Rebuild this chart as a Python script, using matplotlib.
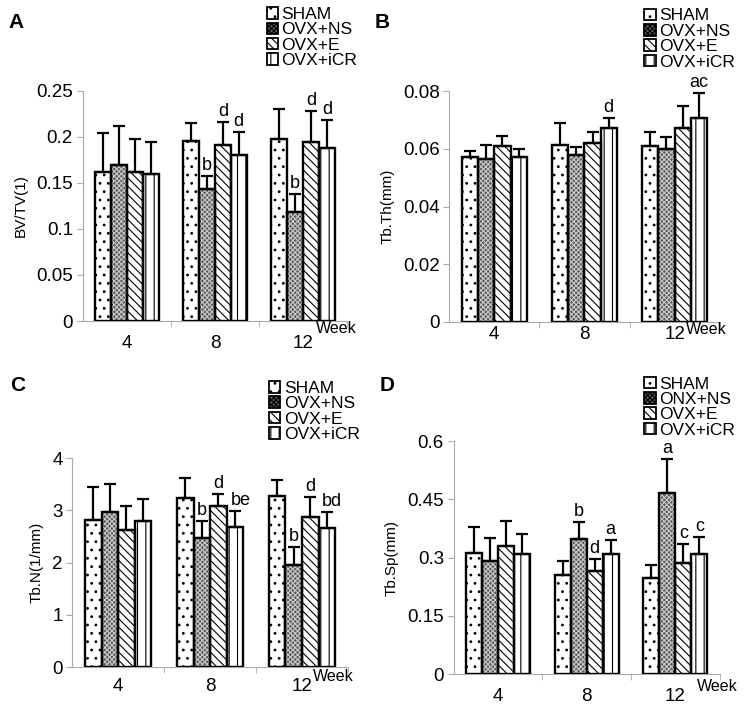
import matplotlib
matplotlib.use('Agg')
import matplotlib.pyplot as plt
from matplotlib.patches import Patch
import numpy as np

plt.rcParams['font.family'] = ['Liberation Sans', 'DejaVu Sans']
plt.rcParams['hatch.linewidth'] = 0.8

weeks = ['4', '8', '12']
groups = ['SHAM', 'OVX+NS', 'OVX+E', 'OVX+iCR']
groups_d = ['SHAM', 'ONX+NS', 'OVX+E', 'OVX+iCR']

# BV/TV
bvtv_mean = [[0.162, 0.196, 0.198],
             [0.169, 0.143, 0.118],
             [0.162, 0.191, 0.194],
             [0.160, 0.180, 0.188]]
bvtv_sd = [[0.042, 0.019, 0.032],
           [0.043, 0.015, 0.020],
           [0.036, 0.025, 0.034],
           [0.034, 0.025, 0.030]]
bvtv_sig = [['', '', ''], ['', 'b', 'b'], ['', 'd', 'd'], ['', 'd', 'd']]

# Tb.Th
tbth_mean = [[0.0571, 0.0615, 0.0611],
             [0.0565, 0.0578, 0.0600],
             [0.0609, 0.0620, 0.0673],
             [0.0571, 0.0672, 0.0706]]
tbth_sd = [[0.0022, 0.0075, 0.0046],
           [0.0050, 0.0028, 0.0042],
           [0.0035, 0.0037, 0.0077],
           [0.0029, 0.0034, 0.0088]]
tbth_sig = [['', '', ''], ['', '', ''], ['', '', ''], ['', 'd', 'ac']]

# Tb.N
tbn_mean = [[2.82, 3.23, 3.27],
            [2.97, 2.48, 1.96],
            [2.63, 3.08, 2.88],
            [2.79, 2.69, 2.67]]
tbn_sd = [[0.63, 0.39, 0.32],
          [0.54, 0.31, 0.33],
          [0.46, 0.24, 0.37],
          [0.42, 0.29, 0.29]]
tbn_sig = [['', '', ''], ['', 'b', 'b'], ['', 'd', 'd'], ['', 'be', 'bd']]

# Tb.Sp
tbsp_mean = [[0.312, 0.254, 0.248],
             [0.290, 0.347, 0.465],
             [0.329, 0.266, 0.286],
             [0.309, 0.310, 0.310]]
tbsp_sd = [[0.067, 0.037, 0.032],
           [0.061, 0.044, 0.089],
           [0.065, 0.029, 0.048],
           [0.051, 0.036, 0.042]]
tbsp_sig = [['', '', ''], ['', 'b', 'a'], ['', 'd', 'c'], ['', 'a', 'c']]

face = ['white', '#5a5a5a', 'white', 'white']
hcol = ['black', '#c8c8c8', 'black', 'black']
hatches = ['..', 'xxxxxxx', '\\\\\\\\', '||']

fig = plt.figure(figsize=(7.45, 7.08), dpi=100)


def panel(rect, means, sds, sigs, ylim, yticks, yfmt, ylabel, letter, letter_xy,
          labels, leg_xy, week_xy, xpad):
    ax = fig.add_axes(rect)
    x = np.arange(len(weeks))
    w = 0.18
    for i in range(4):
        xs = x + (i - 1.5) * w
        ax.bar(xs, means[i], w, color=face[i], hatch=hatches[i], edgecolor=hcol[i],
               linewidth=0, zorder=2)
        ax.bar(xs, means[i], w, fill=False, edgecolor='black', linewidth=1.7, zorder=3)
        ax.errorbar(xs, means[i], yerr=[np.zeros(3), sds[i]], fmt='none',
                    ecolor='black', elinewidth=1.6, capsize=4, capthick=1.6, zorder=4)
        for j in range(3):
            if sigs[i][j]:
                dx = 4 if len(sigs[i][j]) > 1 and letter == 'C' else 0
                ax.annotate(sigs[i][j], (xs[j], means[i][j] + sds[i][j]),
                            xytext=(dx, 1.5), textcoords='offset points',
                            ha='center', va='bottom', fontsize=13)
    ax.set_xlim(-0.5, 2.5)
    ax.set_ylim(*ylim)
    ax.set_yticks(yticks)
    ax.set_yticklabels([yfmt(v) for v in yticks], fontsize=13.5)
    ax.set_xticks(x)
    ax.set_xticklabels(weeks, fontsize=13.5)
    ax.set_xticks([0.5, 1.5, 2.5], minor=True)
    ax.tick_params(axis='x', which='major', length=0, pad=xpad)
    ax.tick_params(axis='x', which='minor', length=4, color='#aaaaaa')
    ax.tick_params(axis='y', length=4, color='#aaaaaa', pad=3)
    for s in ['top', 'right']:
        ax.spines[s].set_visible(False)
    for s in ['left', 'bottom']:
        ax.spines[s].set_color('#aaaaaa')
        ax.spines[s].set_linewidth(0.8)
    ax.set_ylabel(ylabel, fontsize=11, labelpad=6)
    ax.text(week_xy[0], week_xy[1], 'Week', transform=ax.transAxes, ha='center',
            va='top', fontsize=11.5)
    fig.text(letter_xy[0], letter_xy[1], letter, fontsize=15, fontweight='bold',
             ha='left', va='center')
    handles = [Patch(facecolor=face[i], hatch=hatches[i], edgecolor='black',
                     linewidth=1.3) for i in range(4)]
    ax.legend(handles, labels, loc='upper left', bbox_to_anchor=leg_xy,
              bbox_transform=fig.transFigure, frameon=False, fontsize=12.5,
              handlelength=0.65, handleheight=0.65, handletextpad=0.2,
              labelspacing=0.02, borderaxespad=0, borderpad=0)
    return ax


def fmt_plain(v):
    return ('%g' % v)


panel([0.111, 0.5466, 0.355, 0.325], bvtv_mean, bvtv_sd, bvtv_sig, (0, 0.25),
      [0, 0.05, 0.1, 0.15, 0.2, 0.25], fmt_plain, 'BV/TV(1)', 'A', (0.012, 0.968),
      groups, (0.358, 0.99), (0.958, 0.0), 10)
panel([0.603, 0.5452, 0.363, 0.326], tbth_mean, tbth_sd, tbth_sig, (0, 0.08),
      [0, 0.02, 0.04, 0.06, 0.08], lambda v: '0' if v == 0 else '%.2f' % v,
      'Tb.Th(mm)', 'B', (0.503, 0.968), groups, (0.865, 0.988), (0.952, 0.0), 3)
panel([0.097, 0.0579, 0.37, 0.295], tbn_mean, tbn_sd, tbn_sig, (0, 4),
      [0, 1, 2, 3, 4], fmt_plain, 'Tb.N(1/mm)', 'C', (0.014, 0.455),
      groups, (0.361, 0.462), (0.946, -0.01), 8)
panel([0.609, 0.048, 0.357, 0.329], tbsp_mean, tbsp_sd, tbsp_sig, (0, 0.6),
      [0, 0.15, 0.3, 0.45, 0.6], fmt_plain, 'Tb.Sp(mm)', 'D', (0.51, 0.455),
      groups_d, (0.865, 0.468), (0.99, -0.02), 10)

fig.savefig('out.png', dpi=100)
